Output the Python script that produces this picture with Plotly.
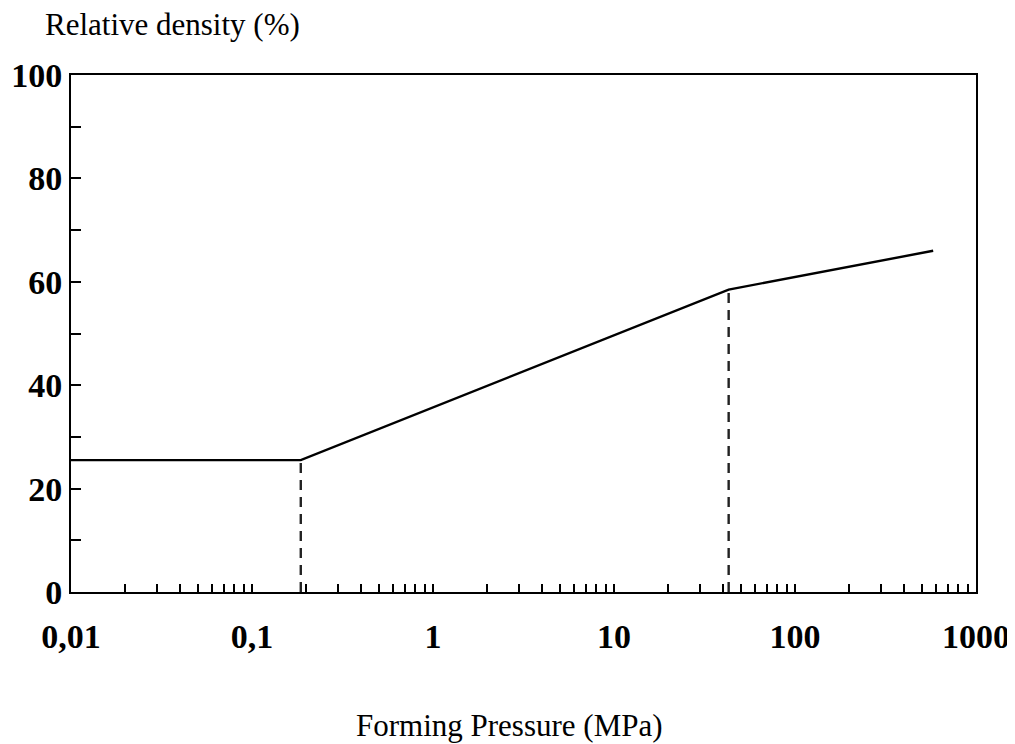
import plotly.graph_objects as go

# Data
pressure = [0.01, 0.186, 43, 580]          # MPa
density = [25.5, 25.5, 58.5, 66]           # %
break_x = [0.186, 43]
break_y = [25.5, 58.5]

x_ticks = [m * 10 ** e for e in range(-2, 3) for m in range(1, 10)] + [1000]
x_labels = {0.01: "0,01", 0.1: "0,1", 1: "1", 10: "10", 100: "100", 1000: "1000"}
y_ticks = list(range(0, 101, 10))
y_labels = {0: "0", 20: "20", 40: "40", 60: "60", 80: "80", 100: "100"}

serif = "Liberation Serif, Times New Roman, serif"

fig = go.Figure()
fig.add_trace(go.Scatter(x=pressure, y=density, mode="lines",
                         line=dict(color="black", width=2.4), showlegend=False))
for bx, by in zip(break_x, break_y):
    fig.add_trace(go.Scatter(x=[bx, bx], y=[0, by], mode="lines",
                             line=dict(color="#222", width=2.4, dash="10px,7px"),
                             showlegend=False))

def lab(v, d):
    for k, t in d.items():
        if abs(v - k) < 1e-9 * max(1, k):
            return t
    return ""

fig.update_xaxes(type="log", range=[-2, 3], tickvals=x_ticks,
                 ticktext=[lab(v, x_labels) for v in x_ticks],
                 ticks="inside", ticklen=8, tickwidth=1.5, tickcolor="black",
                 showline=True, linecolor="black", linewidth=2, mirror=True,
                 showgrid=False, zeroline=False, automargin=False,
                 ticklabelstandoff=13,
                 tickfont=dict(family=serif, size=34, color="black", weight="bold"))
fig.update_yaxes(range=[0, 100], tickvals=y_ticks,
                 ticktext=[lab(v, y_labels) for v in y_ticks],
                 ticks="inside", ticklen=10, tickwidth=1.5, tickcolor="black",
                 showline=True, linecolor="black", linewidth=2, mirror=True,
                 showgrid=False, zeroline=False, automargin=False,
                 tickfont=dict(family=serif, size=34, color="black", weight="bold"))

fig.add_annotation(text="Relative density (%)", xref="paper", yref="paper",
                   x=-0.031, y=1.0, yshift=51, xanchor="left", yanchor="middle",
                   showarrow=False, font=dict(family=serif, size=31, color="black"))
fig.add_annotation(text="Forming Pressure (MPa)", xref="paper", yref="paper",
                   x=0.485, y=0, yshift=-133, xanchor="center", yanchor="middle",
                   showarrow=False, font=dict(family=serif, size=31, color="black"))

fig.update_layout(width=1015, height=736, plot_bgcolor="white", paper_bgcolor="white",
                  margin=dict(l=63, r=47, t=67, b=152))
fig.write_html("out.html")
